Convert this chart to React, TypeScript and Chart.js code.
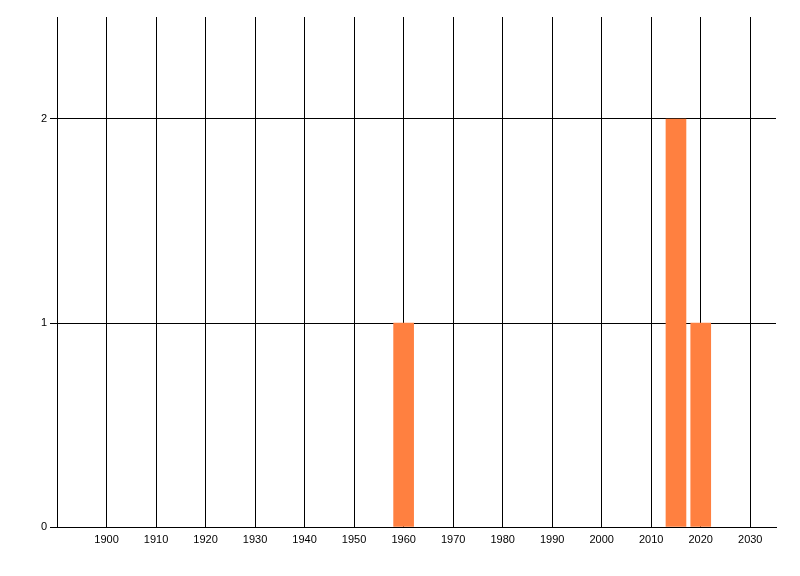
import React, { useEffect, useRef } from "react";
import { Chart, registerables } from "chart.js";

Chart.register(...registerables);

const years = [1960, 2015, 2020];
const counts = [1, 2, 1];
const xTicks = [1900, 1910, 1920, 1930, 1940, 1950, 1960, 1970, 1980, 1990, 2000, 2010, 2020, 2030];
const yTicks = [0, 1, 2];

export default function App() {
  const ref = useRef<HTMLCanvasElement | null>(null);
  useEffect(() => {
    if (!ref.current) return;
    const font = { family: "'Liberation Sans', Arial, sans-serif", size: 11 };
    const chart = new Chart(ref.current, {
      type: "bar",
      data: {
        datasets: [
          {
            data: years.map((x, i) => ({ x, y: counts[i] })),
            backgroundColor: "#FF8040",
            borderWidth: 0,
            barThickness: 20,
          },
        ],
      },
      options: {
        responsive: false,
        animation: false,
        layout: { padding: { top: 17, right: 24, left: 0, bottom: 0 } },
        plugins: { legend: { display: false }, tooltip: { enabled: false } },
        scales: {
          x: {
            type: "linear",
            min: 1890,
            max: 2035.2,
            offset: false,
            afterBuildTicks: (s: any) => {
              s.ticks = xTicks.map((v) => ({ value: v }));
            },
            afterFit: (s: any) => {
              s.height = 49;
            },
            grid: { color: "#000", lineWidth: 1, tickLength: 0, offset: false, drawTicks: false },
            border: { color: "#000", width: 1 },
            ticks: {
              color: "#000",
              font,
              padding: 6,
              autoSkip: false,
              maxRotation: 0,
              callback: (v: any) => String(v),
            },
          },
          y: {
            min: 0,
            max: 2.5,
            afterBuildTicks: (s: any) => {
              s.ticks = yTicks.map((v) => ({ value: v }));
            },
            afterFit: (s: any) => {
              s.width = 57;
            },
            grid: { color: "#000", lineWidth: 1, tickLength: 7 },
            border: { color: "#000", width: 1 },
            ticks: { color: "#000", font, padding: 3, callback: (v: any) => String(v) },
          },
        },
      },
    } as any);
    return () => chart.destroy();
  }, []);
  return (
    <div style={{ position: "absolute", left: 0, top: 0, width: 800, height: 576, background: "#fff" }}>
      <canvas ref={ref} width={800} height={576} />
    </div>
  );
}
